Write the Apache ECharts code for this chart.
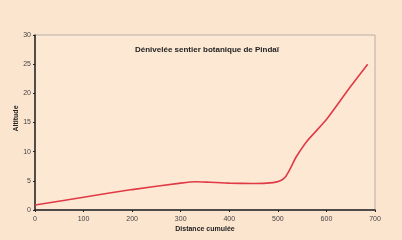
<!DOCTYPE html>
<html><head><meta charset="utf-8">
<script src="https://cdn.jsdelivr.net/npm/echarts@6/dist/echarts.min.js"></script>
<style>html,body{margin:0;padding:0;background:#fce5cf;}#c{width:402px;height:240px;}</style>
</head><body><div id="c"></div>
<script>
const distance = [0, 100, 200, 300, 330, 360, 400, 450, 490, 505, 515, 525, 537, 560, 600, 650, 685];
const altitude = [0.85, 2.2, 3.5, 4.6, 4.85, 4.75, 4.6, 4.55, 4.7, 5.0, 5.6, 7.0, 9.0, 11.8, 15.5, 21.2, 25.0];
const title = 'Dénivelée sentier botanique de Pindaï';
const data = distance.map((d, i) => [d, altitude[i]]);
const chart = echarts.init(document.getElementById('c'));
const font = 'Liberation Sans';
chart.setOption({
  backgroundColor: '#fce5cf',
  animation: false,
  title: { text: title, left: 202, top: 41, textAlign: 'center',
    textStyle: { fontFamily: font, fontSize: 8, fontWeight: 'bold', color: '#222' } },
  grid: { left: 35, right: 27, top: 35, bottom: 30, outerBoundsMode: 'none', containLabel: false,
    show: true, backgroundColor: '#fde8d4', borderColor: '#b8aea4', borderWidth: 1 },
  xAxis: { type: 'value', min: 0, max: 700, interval: 100,
    name: 'Distance cumulée', nameLocation: 'middle', nameGap: 16, nameMoveOverlap: false,
    nameTextStyle: { fontFamily: font, fontSize: 7, fontWeight: 'bold', color: '#222' },
    axisLine: { show: true, onZero: false, lineStyle: { color: '#222', width: 1.5 } },
    axisTick: { show: true, length: 2, lineStyle: { color: '#222' } },
    axisLabel: { fontFamily: font, fontSize: 7, color: '#444', margin: 6 },
    splitLine: { show: false } },
  yAxis: { type: 'value', min: 0, max: 30, interval: 5,
    name: 'Altitude', nameLocation: 'middle', nameGap: 15, nameRotate: 90, nameMoveOverlap: false,
    nameTextStyle: { fontFamily: font, fontSize: 7, fontWeight: 'bold', color: '#222', padding: [0, 0, 0, 8] },
    axisLine: { show: true, lineStyle: { color: '#222', width: 1.5 } },
    axisTick: { show: true, length: 2, lineStyle: { color: '#222' } },
    axisLabel: { fontFamily: font, fontSize: 7, color: '#444', margin: 4 },
    splitLine: { show: false } },
  series: [{ type: 'line', data: data, smooth: 0.2, symbol: 'none',
    lineStyle: { color: '#e03a45', width: 1.6 } }]
});
</script></body></html>
